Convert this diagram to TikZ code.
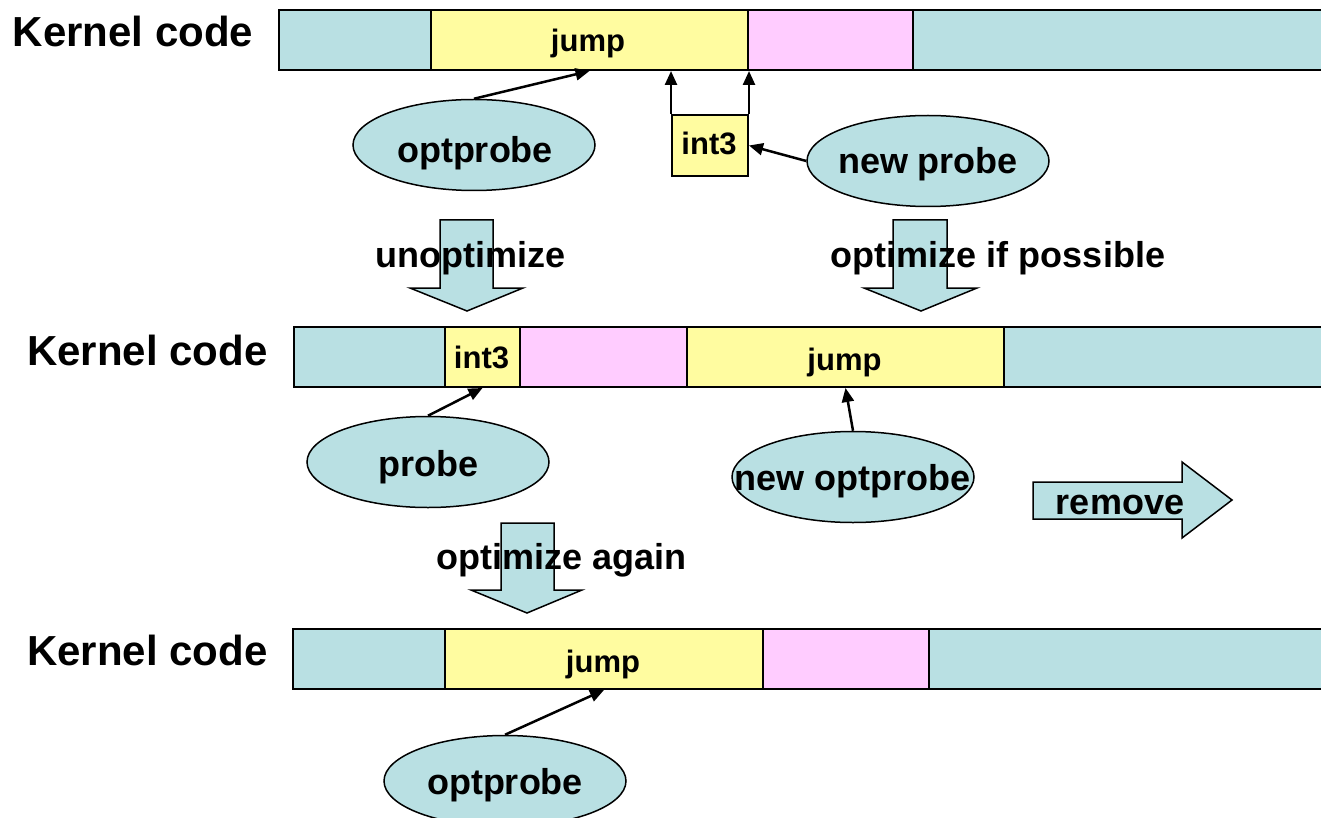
\documentclass[tikz,border=0pt]{standalone}
\usepackage{fontspec}
\setmainfont{Liberation Sans}
\usetikzlibrary{arrows.meta,shapes.geometric}

\definecolor{codeteal}{RGB}{185,224,227}
\definecolor{codeyellow}{RGB}{255,252,160}
\definecolor{codepink}{RGB}{255,204,255}

\begin{document}
\begin{tikzpicture}[x=1pt,y=-1pt,
  seg/.style={draw=black, line width=2pt, inner sep=0pt, anchor=north west, minimum height=60pt},
  probe/.style={ellipse, draw=black, line width=1.5pt, fill=codeteal, inner sep=0pt,
                minimum width=242pt, minimum height=91pt},
  bigtext/.style={font=\bfseries\fontsize{36}{40}\selectfont, inner sep=0pt, anchor=base},
  smalltext/.style={font=\bfseries\fontsize{31}{34}\selectfont, inner sep=0pt, anchor=base},
  titletext/.style={font=\bfseries\fontsize{42}{46}\selectfont, inner sep=0pt, anchor=base},
  ptr/.style={line width=2.5pt, -{Triangle[length=14pt,width=12pt]}},
  blockarrow/.style={draw=black, line width=1.5pt, fill=codeteal, line join=miter}
]
\clip (0,0) rectangle (1321,818);

% ---------- first state: optimized probe, new probe inside the jump ----------
\node[titletext] (k1) at (133,47) {Kernel code};
\node[seg, fill=codeteal,   minimum width=152pt] (a1) at (278,9) {};
\node[seg, fill=codeyellow, minimum width=317pt] (j1) at (430,9) {};
\node[seg, fill=codepink,   minimum width=165pt] (p1) at (747,9) {};
\node[seg, fill=codeteal,   minimum width=420pt] (b1) at (912,9) {};
\node[smalltext] (j1t) at (588,52) {jump};

\node[draw=black, line width=2pt, fill=codeyellow, inner sep=0pt, anchor=north west,
      minimum width=76pt, minimum height=61pt] (i1) at (671,114) {};
\node[smalltext] (i1t) at (709,155) {int3};

\node[probe] (op1) at (474,145) {};
\node[bigtext] (op1t) at (475,163) {optprobe};
\node[probe] (np) at (928,161) {};
\node[bigtext] (npt) at (928,174) {new probe};

\draw[ptr] (op1.north) -- (j1.south);
\draw[ptr] (i1.north west) -- (i1.north west |- j1.south);
\draw[ptr] (i1.north east) -- (i1.north east |- j1.south);
\draw[ptr] (np.west) -- (i1.east);

% ---------- transitions ----------
\draw[blockarrow] (440,220) -- (493,220) -- (493,288) -- (523,288) -- (467,311)
                  -- (410,288) -- (440,288) -- cycle;
\node[bigtext] (unopt) at (470.5,267) {unoptimize};
\draw[blockarrow] (893,220) -- (947,220) -- (947,288) -- (977,288) -- (921,311)
                  -- (864,288) -- (893,288) -- cycle;
\node[bigtext] (optpos) at (998,267) {optimize if possible};

% ---------- second state: probe unoptimized, new probe optimized ----------
\node[titletext] (k2) at (147.5,365) {Kernel code};
\node[seg, fill=codeteal,   minimum width=151pt] (a2) at (293,326) {};
\node[seg, fill=codeyellow, minimum width=75pt]  (i2) at (444,326) {};
\node[seg, fill=codepink,   minimum width=167pt] (p2) at (519,326) {};
\node[seg, fill=codeyellow, minimum width=317pt] (j2) at (686,326) {};
\node[seg, fill=codeteal,   minimum width=330pt] (b2) at (1003,326) {};
\node[smalltext] (i2t) at (481.5,368) {int3};
\node[smalltext] (j2t) at (844.5,370) {jump};

\node[probe] (pr) at (428,462) {};
\node[bigtext] (prt) at (428.5,476) {probe};
\node[probe] (nop) at (853,477) {};
\node[bigtext] (nopt) at (852.5,490) {new optprobe};

\draw[ptr] (pr.north) -- (i2.south);
\draw[ptr] (nop.north) -- (j2.south);

\draw[blockarrow] (1033,482) -- (1182,482) -- (1182,462) -- (1232,500) -- (1182,538)
                  -- (1182,519) -- (1033,519) -- cycle;
\node[bigtext] (rm) at (1120,514) {remove};

\draw[blockarrow] (501,523) -- (554,523) -- (554,590) -- (582,590) -- (527,613)
                  -- (471,590) -- (501,590) -- cycle;
\node[bigtext] (again) at (561.5,569) {optimize again};

% ---------- third state: probe optimized again ----------
\node[titletext] (k3) at (147.5,665) {Kernel code};
\node[seg, fill=codeteal,   minimum width=152pt] (a3) at (292,628) {};
\node[seg, fill=codeyellow, minimum width=318pt] (j3) at (444,628) {};
\node[seg, fill=codepink,   minimum width=166pt] (p3) at (762,628) {};
\node[seg, fill=codeteal,   minimum width=400pt] (b3) at (928,628) {};
\node[smalltext] (j3t) at (603,672) {jump};

\node[probe] (op3) at (505,781) {};
\node[bigtext] (op3t) at (505,794) {optprobe};

\draw[ptr] (op3.north) -- (j3.south);
\end{tikzpicture}
\end{document}
